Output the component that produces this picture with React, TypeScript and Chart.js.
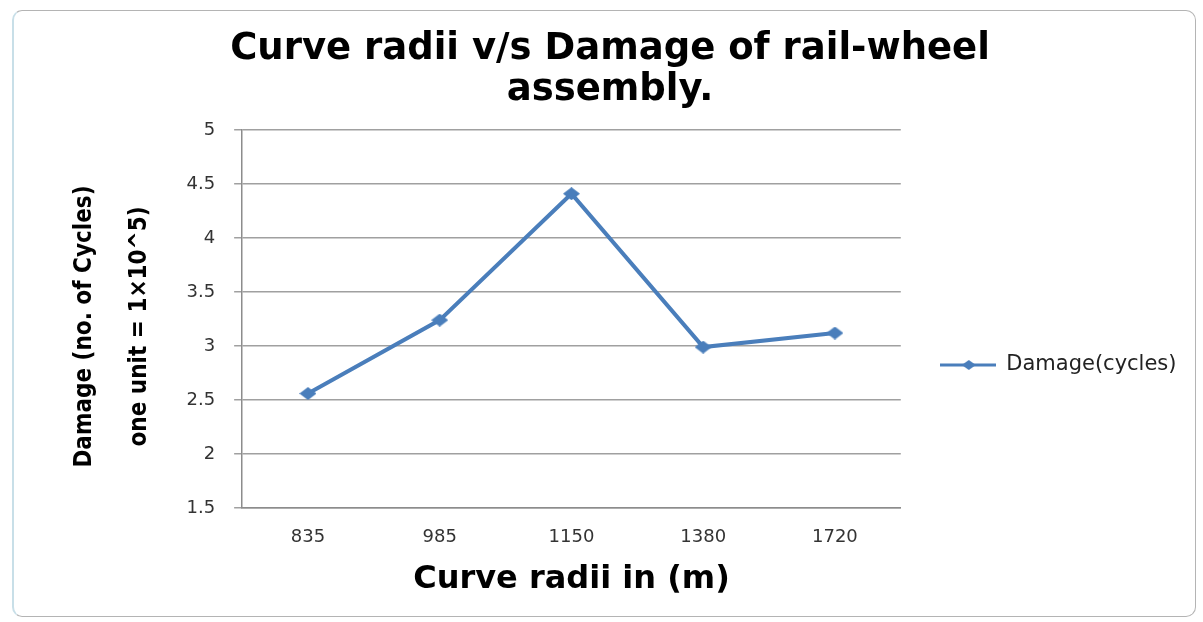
import React, { useEffect, useRef } from 'react';
import { Chart, registerables } from 'chart.js';

Chart.register(...registerables);

const radii: string[] = ['835', '985', '1150', '1380', '1720'];
const damage: number[] = [2.56, 3.24, 4.41, 2.99, 3.12];
const seriesLabel = 'Damage(cycles)';
const chartTitle: string[] = ['Curve radii v/s Damage of rail-wheel', 'assembly.'];
const xTitle = 'Curve radii in (m)';
const yTitle: string[] = ['Damage (no. of Cycles)  ', 'one unit = 1\u00d710^5)  '];
const yMin = 1.5;
const yMax = 5;
const yStep = 0.5;

const BLUE = '#4a7ebb';
const FONT = "'DejaVu Sans', sans-serif";

function makeDiamond(w: number, h: number): HTMLCanvasElement {
  const c = document.createElement('canvas');
  c.width = w;
  c.height = h;
  const g = c.getContext('2d')!;
  g.fillStyle = BLUE;
  g.beginPath();
  g.moveTo(w / 2, 0);
  g.lineTo(w, h / 2);
  g.lineTo(w / 2, h);
  g.lineTo(0, h / 2);
  g.closePath();
  g.fill();
  return c;
}

function makeLegendMark(): HTMLCanvasElement {
  const c = document.createElement('canvas');
  c.width = 56;
  c.height = 12;
  const g = c.getContext('2d')!;
  g.strokeStyle = BLUE;
  g.lineWidth = 3;
  g.beginPath();
  g.moveTo(0, 6);
  g.lineTo(56, 6);
  g.stroke();
  g.fillStyle = BLUE;
  g.beginPath();
  g.moveTo(29, 1);
  g.lineTo(36, 6);
  g.lineTo(29, 11);
  g.lineTo(22, 6);
  g.closePath();
  g.fill();
  return c;
}

export default function App() {
  const ref = useRef<HTMLCanvasElement | null>(null);

  useEffect(() => {
    if (!ref.current) return;
    const diamond = makeDiamond(17, 13);
    const legendMark = makeLegendMark();
    const chart = new Chart(ref.current, {
      type: 'line',
      data: {
        labels: radii,
        datasets: [
          {
            label: seriesLabel,
            data: damage,
            borderColor: BLUE,
            backgroundColor: BLUE,
            borderWidth: 4,
            tension: 0,
            pointStyle: diamond as any,
            pointRadius: 8,
            fill: false,
          },
        ],
      },
      options: {
        responsive: false,
        animation: false,
        layout: { padding: { left: 33.5, right: 16.5, top: 10, bottom: 23 } },
        plugins: {
          tooltip: { enabled: false },
          title: {
            display: true,
            text: chartTitle,
            color: '#000',
            font: { family: FONT, size: 37, weight: 'bold', lineHeight: 41 / 37 },
            padding: { top: 18.5, bottom: 19.5 },
          },
          legend: {
            display: true,
            position: 'right',
            fullSize: false,
            title: {
              display: true,
              text: ' ',
              font: { size: 10 },
              padding: { top: 80, bottom: 0 },
            },
            labels: {
              usePointStyle: true,
              pointStyleWidth: 56,
              padding: 39,
              color: '#222',
              font: { family: FONT, size: 21 },
              generateLabels: () => [
                {
                  text: seriesLabel,
                  pointStyle: legendMark as any,
                  fillStyle: BLUE,
                  strokeStyle: BLUE,
                  lineWidth: 0,
                  hidden: false,
                  datasetIndex: 0,
                  fontColor: '#222',
                },
              ],
            },
          },
        },
        scales: {
          x: {
            offset: true,
            grid: { display: false, drawTicks: false, offset: true },
            border: { display: true, color: '#8c8c8c', width: 1.5 },
            ticks: { color: '#333', font: { family: FONT, size: 18 }, padding: 19 },
            title: {
              display: true,
              text: xTitle,
              color: '#000',
              font: { family: FONT, size: 32, weight: 'bold', lineHeight: 1.2 },
              padding: { top: -7, bottom: 0 },
            },
          },
          y: {
            min: yMin,
            max: yMax,
            ticks: {
              stepSize: yStep,
              color: '#333',
              font: { family: FONT, size: 18 },
              padding: 19,
              callback: (v: any) => String(Number(v)),
            },
            grid: { color: '#a0a0a0', lineWidth: 1.5, tickLength: 8, drawTicks: true },
            border: { display: true, color: '#8c8c8c', width: 1.5 },
            title: {
              display: true,
              text: yTitle,
              color: '#000',
              font: {
                family: "'DejaVu Sans Condensed', 'Liberation Sans Narrow', 'DejaVu Sans', sans-serif",
                size: 24,
                weight: 'bold',
                lineHeight: 55 / 24,
              },
              padding: { top: 24, bottom: 0 },
            },
          },
        },
      },
    });
    return () => chart.destroy();
  }, []);

  return (
    <div style={{ position: 'fixed', left: 0, top: 0, width: 1203, height: 622, background: '#fff' }}>
      <div
        style={{
          position: 'absolute',
          left: 12,
          top: 10,
          width: 1184,
          height: 607,
          border: '1px solid #b4b4b4',
          borderLeft: '2px solid #c8dfe8',
          borderRadius: 10,
          boxSizing: 'border-box',
        }}
      />
      <canvas ref={ref} width={1203} height={622} style={{ position: 'absolute', left: 0, top: 0 }} />
    </div>
  );
}
